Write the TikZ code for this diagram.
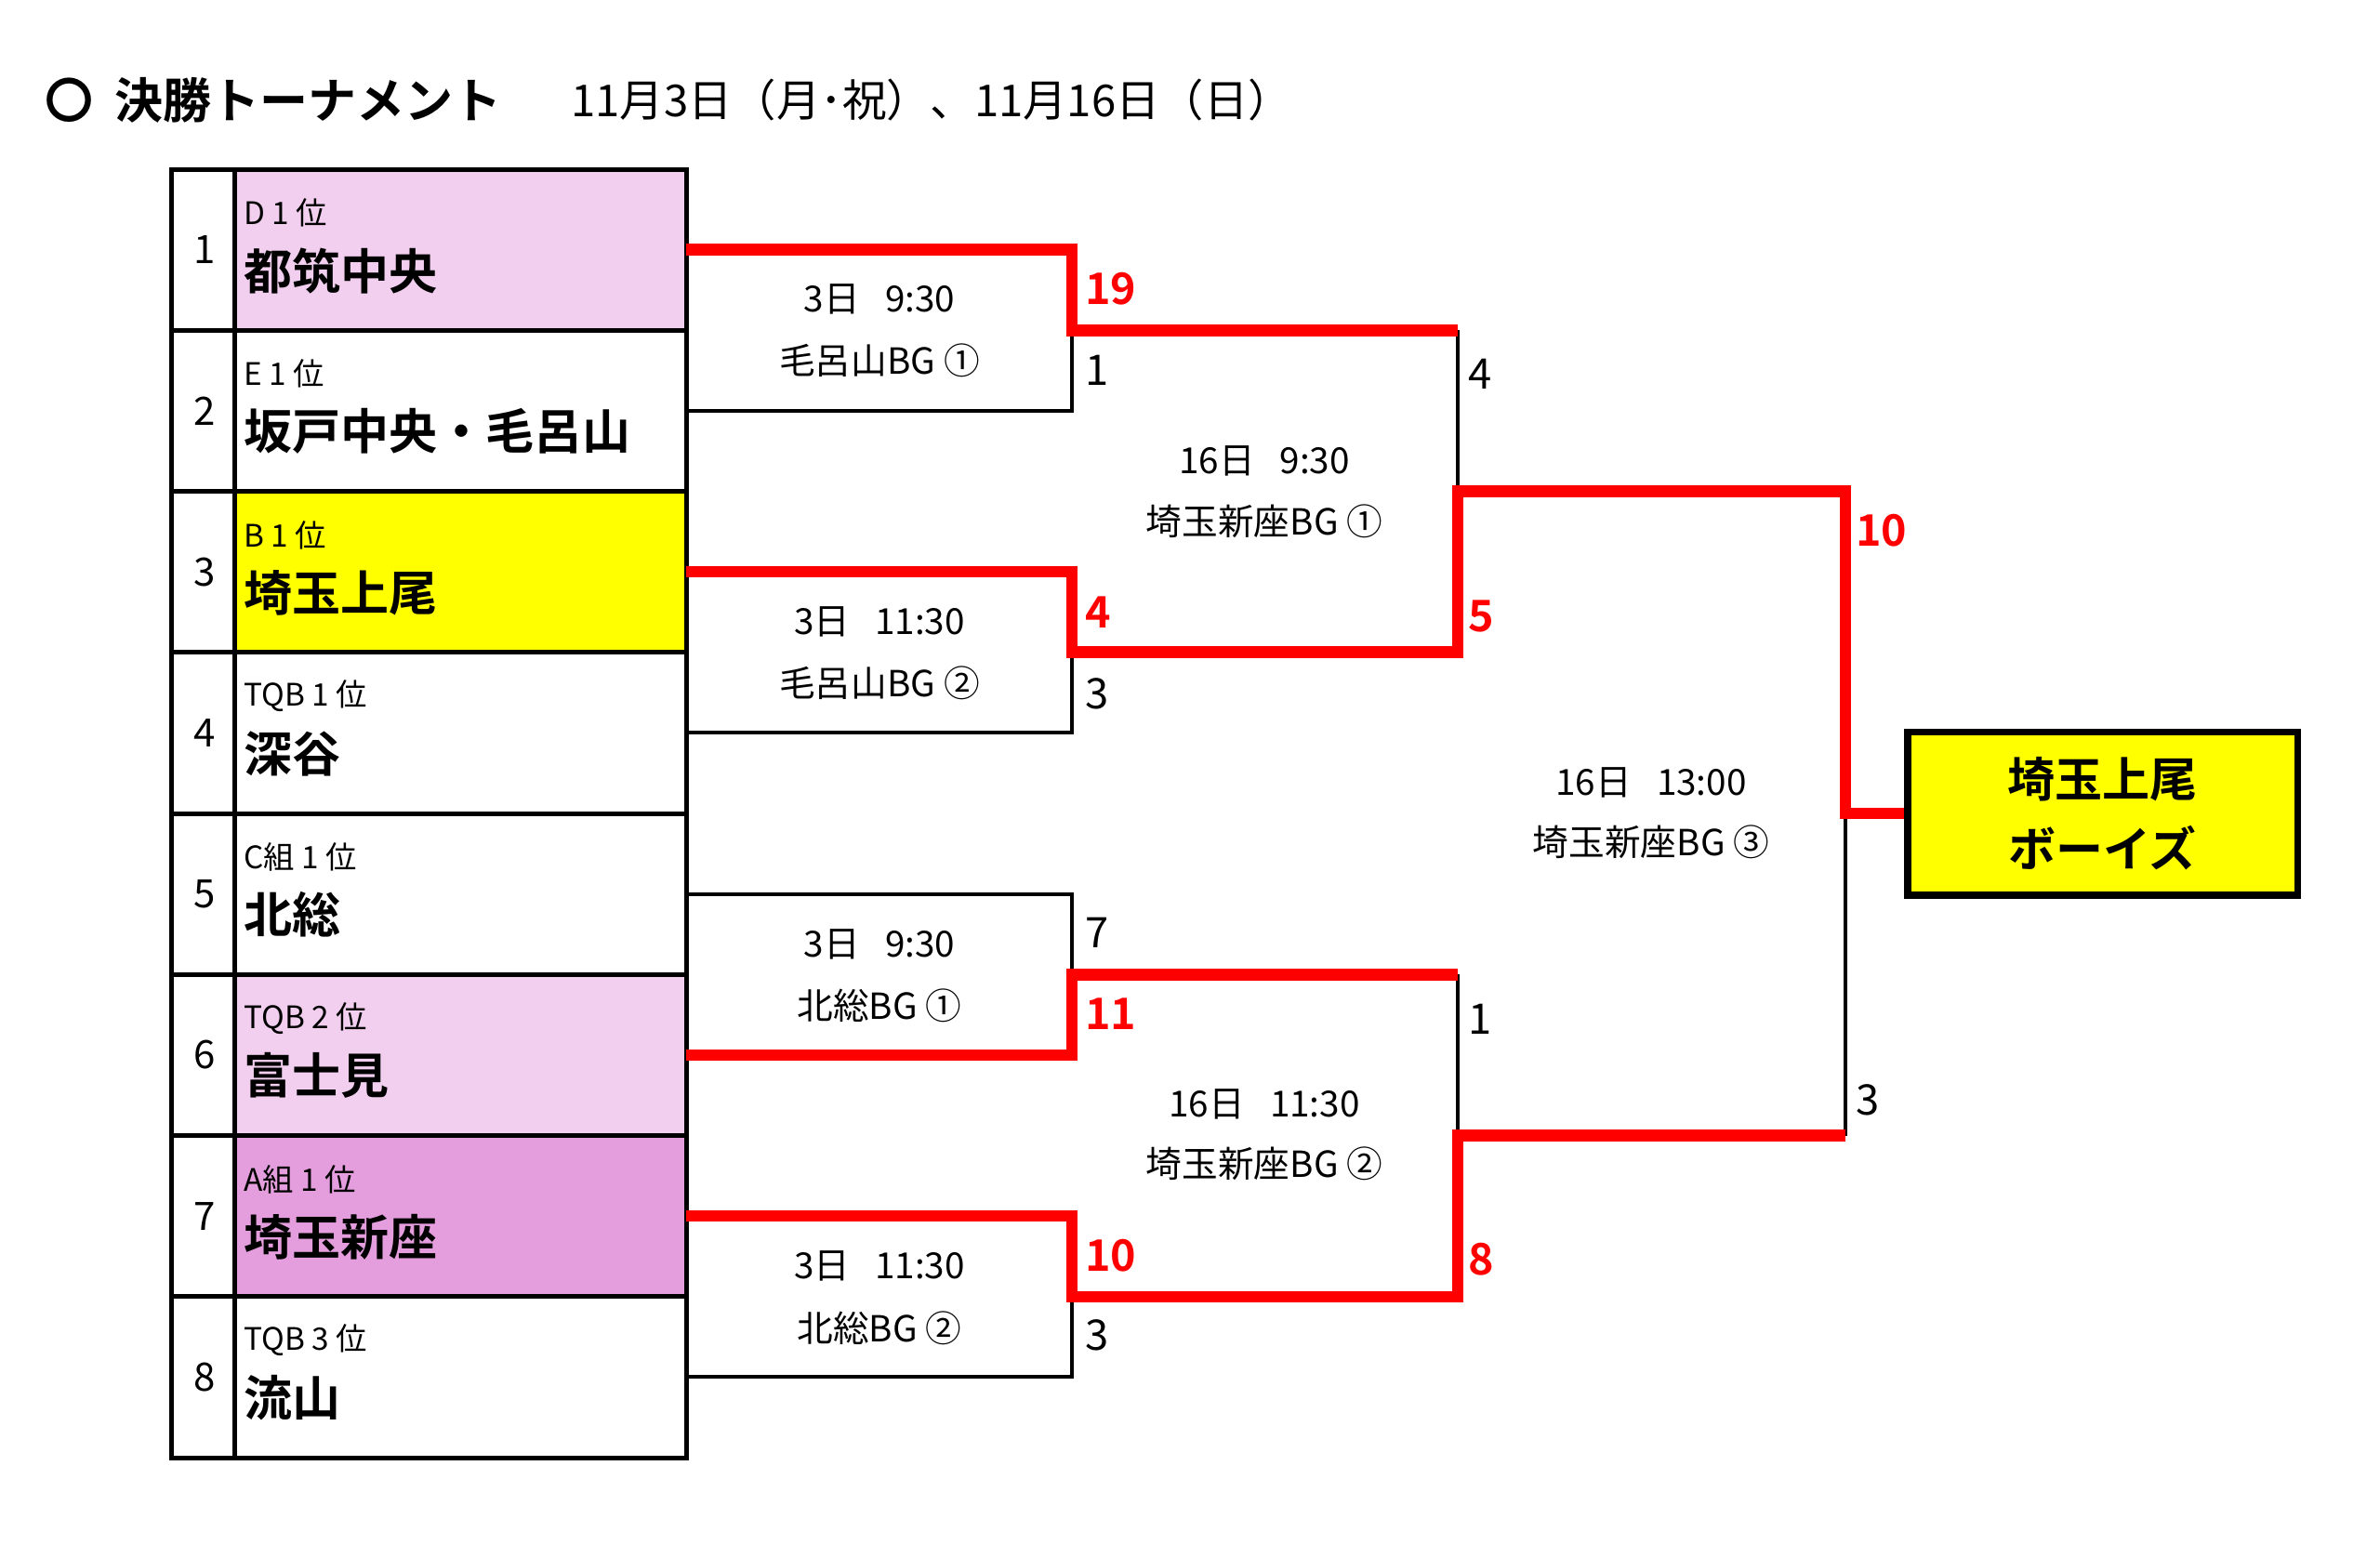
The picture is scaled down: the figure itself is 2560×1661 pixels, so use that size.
\documentclass[tikz,border=0pt]{standalone}
\usepackage{fontspec}
\setmainfont{Noto Sans CJK JP}[BoldFont={Noto Sans CJK JP Bold}]
\definecolor{lpink}{HTML}{F2CEEF}
\definecolor{mpink}{HTML}{E49EDD}
\definecolor{yel}{HTML}{FFFF00}
\definecolor{win}{HTML}{FF0000}
\newcommand\ptf[1]{\fontsize{#1pt}{#1pt}\selectfont}
\begin{document}
\begin{tikzpicture}[x=0.75pt,y=-0.75pt,
  tbl/.style={line width=3.75pt},
  lose/.style={line width=3pt, line join=miter},
  wpath/.style={draw=win, line width=9.4pt, line join=miter},
  rk/.style={inner sep=0pt, font=\ptf{31.5}},
  sublbl/.style={inner sep=0pt, anchor=west, font=\ptf{25}},
  team/.style={inner sep=0pt, anchor=west, font=\bfseries\ptf{39}},
  mt/.style={inner sep=0pt, font=\ptf{29}},
  sc/.style={inner sep=0pt, anchor=west, font=\ptf{34}},
  scw/.style={inner sep=0pt, anchor=west, text=win, font=\bfseries\ptf{35}},
  champbox/.style={draw, fill=yel, line width=3.75pt, minimum width=312.75pt,
    minimum height=129.75pt, align=center, inner sep=0pt,
    font=\bfseries\fontsize{38.25pt}{56.25pt}\selectfont},
  ttl/.style={inner sep=0pt, anchor=west, font=\bfseries\ptf{39}},
  dt/.style={inner sep=0pt, anchor=west, font=\ptf{35.5}}
]
\useasboundingbox (0,0) rectangle (2560,1661);
\fill[white] (0,0) rectangle (2560,1661);

% title
\node[ttl] (title) at (48,108) {〇\hspace{0.45em}決勝トーナメント};
\node[dt] (date) at (614,108) {11月3日（月･祝）、11月16日（日）};

% table rows
\foreach \i/\s/\n/\c in {1/D 1 位/都筑中央/lpink, 2/E 1 位/坂戸中央・毛呂山/white,
  3/B 1 位/埼玉上尾/yel, 4/TQB 1 位/深谷/white, 5/C組 1 位/北総/white,
  6/TQB 2 位/富士見/lpink, 7/A組 1 位/埼玉新座/mpink, 8/TQB 3 位/流山/white}{
  \pgfmathsetmacro\tp{182+173.25*(\i-1)}
  \fill[\c] (252,\tp) rectangle (738,\tp+173.25);
  \node[rk] (k\i) at (220,\tp+86.625) {\i};
  \node[sublbl] (a\i) at (262,\tp+47) {\s};
  \node[team] (t\i) at (262,\tp+109) {\n};
  \coordinate (s\i) at (738,\tp+86.625);
}
\draw[tbl] (184,182) rectangle (738,1568);
\draw[tbl] (252,182) -- (252,1568);
\foreach \i in {1,...,7}{
  \draw[tbl] (184,182+173.25*\i) -- (738,182+173.25*\i);
}

% bracket points
\coordinate (m1) at (1153,355.25);
\coordinate (m2) at (1153,701.75);
\coordinate (m3) at (1153,1048.25);
\coordinate (m4) at (1153,1394.75);
\coordinate (r1) at (1568,528.5);
\coordinate (r2) at (1568,1221.5);
\coordinate (f) at (1985,875);

% losing lines
\draw[lose] (s2) -- (s2 -| m1) -- (m1);
\draw[lose] (s4) -- (s4 -| m2) -- (m2);
\draw[lose] (s5) -- (s5 -| m3) -- (m3);
\draw[lose] (s8) -- (s8 -| m4) -- (m4);
\draw[lose] (m1 -| r1) -- (r1);
\draw[lose] (m3 -| r2) -- (r2);
\draw[lose] (r2 -| f) -- (f);

% champion box
\node[champbox] (champ) at (2261.5,875) {埼玉上尾\\ボーイズ};

% winning lines
\draw[wpath] (s1) -- (s1 -| m1) -- (m1) -- (m1 -| r1);
\draw[wpath] (s3) -- (s3 -| m2) -- (m2) -- (m2 -| r1) -- (r1) -- (r1 -| f) -- (f) -- (champ.west);
\draw[wpath] (s6) -- (s6 -| m3) -- (m3) -- (m3 -| r2);
\draw[wpath] (s7) -- (s7 -| m4) -- (m4) -- (m4 -| r2) -- (r2) -- (r2 -| f);
\draw[line width=3.75pt] (champ.north west) rectangle (champ.south east);

% match info
\node[mt] (g1) at (946,322) {3日\hspace{0.7em}9:30};
\node[mt] (v1) at (946,388) {毛呂山BG ①};
\node[mt] (g2) at (946,669) {3日\hspace{0.7em}11:30};
\node[mt] (v2) at (946,735) {毛呂山BG ②};
\node[mt] (g3) at (946,1016) {3日\hspace{0.7em}9:30};
\node[mt] (v3) at (946,1082) {北総BG ①};
\node[mt] (g4) at (946,1362) {3日\hspace{0.7em}11:30};
\node[mt] (v4) at (946,1429) {北総BG ②};
\node[mt] (g5) at (1360,496) {16日\hspace{0.7em}9:30};
\node[mt] (v5) at (1360,561) {埼玉新座BG ①};
\node[mt] (g6) at (1360,1188) {16日\hspace{0.7em}11:30};
\node[mt] (v6) at (1360,1252) {埼玉新座BG ②};
\node[mt] (g7) at (1776,842) {16日\hspace{0.7em}13:00};
\node[mt] (v7) at (1776,906) {埼玉新座BG ③};

% scores
\node[scw] (p1) at (1167,311) {19};
\node[sc]  (p2) at (1167,398) {1};
\node[scw] (p3) at (1167,659) {4};
\node[sc]  (p4) at (1167,746) {3};
\node[sc]  (p5) at (1167,1003) {7};
\node[scw] (p6) at (1167,1091) {11};
\node[scw] (p7) at (1167,1351) {10};
\node[sc]  (p8) at (1167,1436) {3};
\node[sc]  (q1) at (1579,402) {4};
\node[scw] (q2) at (1579,663) {5};
\node[sc]  (q3) at (1579,1096) {1};
\node[scw] (q4) at (1579,1355) {8};
\node[scw] (z1) at (1996,571) {10};
\node[sc]  (z2) at (1996,1183) {3};
\end{tikzpicture}
\end{document}
